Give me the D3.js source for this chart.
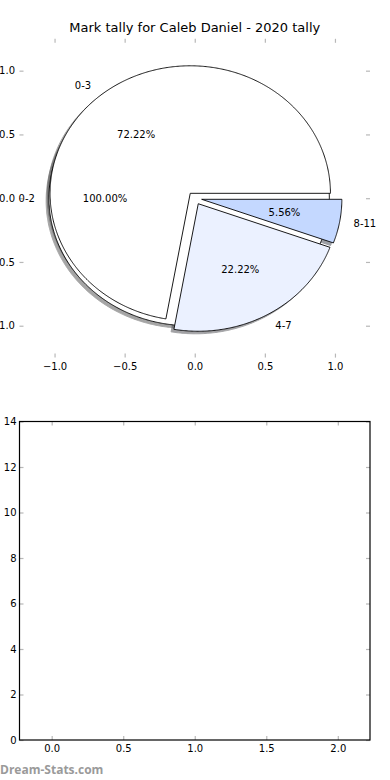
<!DOCTYPE html>
<html>
<head>
<meta charset="utf-8">
<script src="https://cdn.jsdelivr.net/npm/d3@7"></script>
<style>
  html, body { margin: 0; padding: 0; background: #fff; }
  svg { display: block; font-family: "DejaVu Sans", sans-serif; }
</style>
</head>
<body>
<svg id="chart" width="390" height="780"></svg>
<script>
// ---- data ----
const titleText = "Mark tally for Caleb Daniel - 2020 tally";
const pieCategories = ["0-3", "4-7", "8-11"];
const pieValues = [13, 4, 1];
const pieColors = ["#ffffff", "#ebf1ff", "#c4d8ff"];
const fullCategories = ["0-2"];
const fullValues = [18];
const fullColors = ["#ffffff"];
const pieExplode = 0.05;
const fullExplode = 0.04;
const pieTicks = [-1.0, -0.5, 0.0, 0.5, 1.0];
const barXTicks = [0.0, 0.5, 1.0, 1.5, 2.0];
const barYTicks = [0, 2, 4, 6, 8, 10, 12, 14];
const watermark = "Dream-Stats.com";

const svg = d3.select("#chart");

// ---- top (pie) axes ----
const topBox = { left: 19.5, right: 370, top: 38.8, bottom: 357.6 };
const x = d3.scaleLinear().domain([-1.25, 1.25]).range([topBox.left, topBox.right]);
const y = d3.scaleLinear().domain([-1.25, 1.25]).range([topBox.bottom, topBox.top]);

const tickColor = "#b8b8b8";
function styleAxis(g) {
  g.select(".domain").remove();
  g.selectAll(".tick line").attr("stroke", tickColor).attr("stroke-width", 1.2);
  g.selectAll(".tick text").attr("fill", "#000").style("font-size", "10px").style("font-family", "DejaVu Sans");
}
const fmt1 = d3.format(".1f");

svg.append("g").attr("transform", `translate(0,${topBox.bottom})`)
  .call(d3.axisBottom(x).tickValues(pieTicks).tickFormat(fmt1).tickSize(-4).tickPadding(5)).call(styleAxis);
svg.append("g").attr("transform", `translate(0,${topBox.top})`)
  .call(d3.axisTop(x).tickValues(pieTicks).tickFormat("").tickSize(-4)).call(styleAxis);
svg.append("g").attr("transform", `translate(${topBox.left},0)`)
  .call(d3.axisLeft(y).tickValues(pieTicks).tickFormat(fmt1).tickSize(-4).tickPadding(4.5)).call(styleAxis);
svg.append("g").attr("transform", `translate(${topBox.right},0)`)
  .call(d3.axisRight(y).tickValues(pieTicks).tickFormat("").tickSize(-4)).call(styleAxis);

// pie geometry (matplotlib style: counterclockwise from east)
const pieGen = d3.pie().sort(null).startAngle(0).endAngle(2 * Math.PI);
function buildWedges(values, cats, colors, explode) {
  const total = d3.sum(values);
  return pieGen(values).map((d, i) => {
    const mid = (d.startAngle + d.endAngle) / 2;
    return {
      a1: d.startAngle, a2: d.endAngle, mid,
      cx: explode * Math.cos(mid), cy: explode * Math.sin(mid),
      full: Math.abs(d.endAngle - d.startAngle - 2 * Math.PI) < 1e-9,
      label: cats[i], pct: (100 * values[i] / total).toFixed(2) + "%",
      color: colors[i]
    };
  });
}
const wedges = buildWedges(fullValues, fullCategories, fullColors, fullExplode)
  .concat(buildWedges(pieValues, pieCategories, pieColors, pieExplode));

const line = d3.line().x(p => x(p[0])).y(p => y(p[1]));
function wedgePoints(w, dx, dy) {
  const pts = [];
  const n = Math.max(8, Math.ceil((w.a2 - w.a1) / (Math.PI / 360)));
  if (!w.full) pts.push([w.cx + dx, w.cy + dy]);
  for (let k = 0; k <= n; k++) {
    const a = w.a1 + (w.a2 - w.a1) * k / n;
    pts.push([w.cx + dx + Math.cos(a), w.cy + dy + Math.sin(a)]);
  }
  return pts;
}
function shadeColor(c) {
  const r = d3.rgb(c);
  return d3.rgb(r.r * 0.3, r.g * 0.3, r.b * 0.3).toString();
}
const pieG = svg.append("g");
// shadows first
pieG.selectAll("path.shadow").data(wedges).join("path")
  .attr("class", "shadow")
  .attr("d", w => line(wedgePoints(w, -0.02, -0.02)) + "Z")
  .attr("fill", w => shadeColor(w.color))
  .attr("stroke", w => shadeColor(w.color))
  .attr("stroke-width", 1)
  .attr("opacity", 0.5);
// wedges
pieG.selectAll("path.wedge").data(wedges).join("path")
  .attr("class", "wedge")
  .attr("d", w => line(wedgePoints(w, 0, 0)) + "Z")
  .attr("fill", w => w.color)
  .attr("stroke", "#000")
  .attr("stroke-width", 0.9)
  .attr("stroke-linejoin", "miter");
// labels
pieG.selectAll("text.lab").data(wedges).join("text")
  .attr("class", "lab")
  .attr("x", w => x(w.cx + 1.1 * Math.cos(w.mid)))
  .attr("y", w => y(w.cy + 1.1 * Math.sin(w.mid)))
  .attr("text-anchor", w => (w.cx + 1.1 * Math.cos(w.mid)) > 0 ? "start" : "end")
  .attr("dominant-baseline", "central")
  .style("font-size", "10px")
  .text(w => w.label);
pieG.selectAll("text.pct").data(wedges).join("text")
  .attr("class", "pct")
  .attr("x", w => x(w.cx + 0.6 * Math.cos(w.mid)))
  .attr("y", w => y(w.cy + 0.6 * Math.sin(w.mid)))
  .attr("text-anchor", "middle")
  .attr("dominant-baseline", "central")
  .style("font-size", "10px")
  .text(w => w.pct);

svg.append("text")
  .attr("x", (topBox.left + topBox.right) / 2)
  .attr("y", 32)
  .attr("text-anchor", "middle")
  .style("font-size", "13px")
  .text(titleText);

// ---- bottom (empty) axes ----
const botBox = { left: 19.5, right: 370, top: 421.5, bottom: 740 };
const xb = d3.scaleLinear().domain([-0.225, 2.225]).range([botBox.left, botBox.right]);
const yb = d3.scaleLinear().domain([0, 14]).range([botBox.bottom, botBox.top]);

svg.append("g").attr("transform", `translate(0,${botBox.bottom})`)
  .call(d3.axisBottom(xb).tickValues(barXTicks).tickFormat(fmt1).tickSize(-4).tickPadding(5)).call(styleAxis);
svg.append("g").attr("transform", `translate(0,${botBox.top})`)
  .call(d3.axisTop(xb).tickValues(barXTicks).tickFormat("").tickSize(-4)).call(styleAxis);
svg.append("g").attr("transform", `translate(${botBox.left},0)`)
  .call(d3.axisLeft(yb).tickValues(barYTicks).tickFormat(d3.format("d")).tickSize(-4).tickPadding(3)).call(styleAxis);
svg.append("g").attr("transform", `translate(${botBox.right},0)`)
  .call(d3.axisRight(yb).tickValues(barYTicks).tickFormat("").tickSize(-4)).call(styleAxis);

svg.append("rect")
  .attr("x", botBox.left).attr("y", botBox.top)
  .attr("width", botBox.right - botBox.left).attr("height", botBox.bottom - botBox.top)
  .attr("fill", "none").attr("stroke", "#000").attr("stroke-width", 1.2);

// watermark
svg.append("text")
  .attr("x", 0).attr("y", 774)
  .style("font-size", "12px").style("font-weight", "bold")
  .style("font-family", "'Open Sans', sans-serif")
  .attr("fill", "#9a9a9a")
  .text(watermark);
</script>
</body>
</html>
